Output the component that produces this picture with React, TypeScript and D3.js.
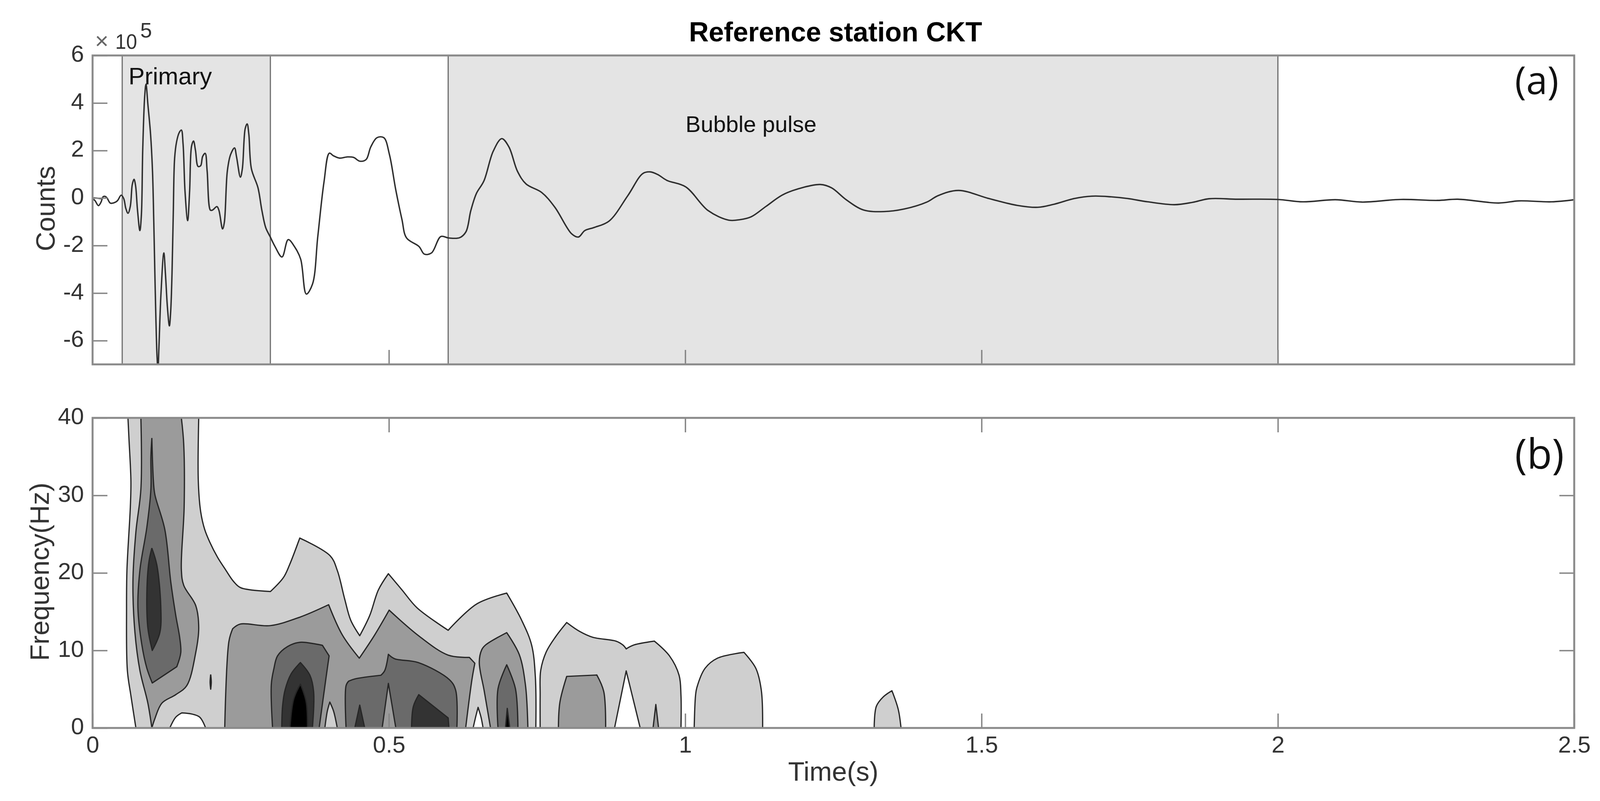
import { useEffect, useRef } from "react";
import * as d3 from "d3";

type Pt = [number, number];

const WIDTH = 4137;
const HEIGHT = 2051;
const FONT = '"Liberation Sans", Arial, sans-serif';

const TITLE = "Reference station CKT";
const COUNT_TICKS = [6, 4, 2, 0, -2, -4, -6];
const FREQ_TICKS = [0, 10, 20, 30, 40];
const TIME_TICKS = [0, 0.5, 1, 1.5, 2, 2.5];
const SHADED_WINDOWS: Pt[] = [
  [0.05, 0.3],
  [0.6, 2.0],
];

// waveform: time (s), counts (x 1e5)
const trace: Pt[] = [
  [0.0143, -0.03], [0, 0], [0.0044, -0.12], [0.0099, -0.32], [0.0143, -0.17], [0.0176, 0.05],
  [0.0209, 0.07], [0.0242, 0.01], [0.0297, -0.21], [0.0352, -0.21], [0.0417, -0.12], [0.0483, 0.12],
  [0.0527, -0.03], [0.056, -0.43], [0.0598, -0.64], [0.0637, -0.34], [0.067, 0.57], [0.0699, 0.79],
  [0.0725, 0.53], [0.0758, -0.51], [0.0798, -1.37], [0.0824, -0.69], [0.0846, 2.01], [0.0879, 4.27],
  [0.0901, 4.79], [0.0934, 3.92], [0.0978, 2.7], [0.1011, 1.14], [0.1033, -1.03], [0.1055, -3.64],
  [0.1088, -6.69], [0.1103, -7.2], [0.112, -6.25], [0.1153, -4.08], [0.1202, -2.31], [0.123, -3.21],
  [0.1263, -4.6], [0.1296, -5.38], [0.1318, -4.77], [0.134, -3.21], [0.1362, -0.6], [0.1384, 1.66],
  [0.1417, 2.36], [0.1461, 2.75], [0.1498, 2.86], [0.1527, 2.27], [0.156, 0.27], [0.1604, -0.95],
  [0.1637, 0.27], [0.167, 2.18], [0.1703, 2.4], [0.1736, 2.01], [0.178, 1.33], [0.1824, 1.36],
  [0.1857, 1.75], [0.19, 1.88], [0.1933, 1.14], [0.1988, -0.51], [0.2021, -0.51], [0.2098, -0.36],
  [0.2131, -0.51], [0.2193, -1.3], [0.2223, -1.03], [0.2274, 1.14], [0.2329, 1.83], [0.2395, 2.11],
  [0.2428, 1.75], [0.2494, 0.88], [0.2527, 1.23], [0.2575, 2.92], [0.2608, 3.12], [0.2636, 2.7],
  [0.268, 1.23], [0.279, 0.44], [0.2856, -0.51], [0.2922, -1.25], [0.2999, -1.64], [0.3076, -2.03],
  [0.3196, -2.48], [0.3301, -1.75], [0.3406, -2.04], [0.3511, -2.57], [0.3606, -4.04], [0.3711, -3.62],
  [0.38, -1.62], [0.3905, 0.68], [0.3995, 1.89], [0.4063, 1.78], [0.4168, 1.68], [0.43, 1.73],
  [0.4404, 1.71], [0.451, 1.55], [0.4615, 1.62], [0.4694, 2.15], [0.4799, 2.54], [0.4914, 2.54],
  [0.5009, 1.83], [0.5114, 0.37], [0.5219, -0.89], [0.5298, -1.68], [0.5508, -2.04], [0.5598, -2.36],
  [0.5719, -2.31], [0.5876, -1.62], [0.6008, -1.68], [0.6193, -1.67], [0.63, -1.42], [0.6382, -0.53],
  [0.6476, 0.19], [0.6603, 0.72], [0.676, 1.97], [0.6905, 2.5], [0.7025, 2.15], [0.717, 1.12],
  [0.7315, 0.59], [0.758, 0.23], [0.7801, -0.39], [0.8085, -1.51], [0.8198, -1.64], [0.8305, -1.37],
  [0.8463, -1.24], [0.8715, -0.97], [0.9031, 0.1], [0.9283, 1.03], [0.9409, 1.1], [0.9535, 0.99],
  [0.9693, 0.74], [1.0008, 0.47], [1.0387, -0.53], [1.0734, -0.93], [1.0923, -0.91], [1.1112, -0.79],
  [1.1364, -0.35], [1.1648, 0.14], [1.1995, 0.45], [1.2279, 0.57], [1.2468, 0.43], [1.2721, -0.08],
  [1.3004, -0.5], [1.3351, -0.57], [1.3698, -0.46], [1.4077, -0.17], [1.4266, 0.1], [1.4613, 0.32],
  [1.5122, -0.02], [1.5604, -0.31], [1.5948, -0.39], [1.6223, -0.26], [1.6567, -0.02], [1.6877, 0.08],
  [1.7187, 0.05], [1.7462, -0.02], [1.7806, -0.16], [1.8253, -0.28], [1.8563, -0.18], [1.8838, -0.03],
  [1.932, -0.05], [2.0, -0.06], [2.042, -0.16], [2.0971, -0.07], [2.1418, -0.17], [2.2072, -0.06],
  [2.2691, -0.1], [2.3035, -0.05], [2.3723, -0.21], [2.4067, -0.12], [2.4617, -0.16], [2.5, -0.07],
];

// contour outlines: time (s), frequency (Hz)
const outerMain: Pt[] = [
  [0.0731, 0], [0.0647, 4.16], [0.0587, 7.41], [0.0573, 15.5], [0.058, 20.4], [0.0637, 28.5], [0.0647, 31.8],
  [0.0614, 37.3], [0.0597, 40], [0.1791, 40], [0.1784, 31.8], [0.1824, 27.9], [0.1892, 25.6], [0.1976, 24],
  [0.211, 22], [0.2245, 20.4], [0.2379, 18.9], [0.2497, 18.1], [0.3001, 17.6], [0.322, 19.4], [0.3321, 21],
  [0.3496, 24.5], [0.401, 22.2], [0.413, 20.3], [0.4255, 16.6], [0.4356, 13.9], [0.4508, 11.9], [0.4676, 14.5],
  [0.4822, 17.8], [0.4991, 19.9], [0.5222, 17.8], [0.5475, 15.5], [0.6, 12.6], [0.6483, 16], [0.6988, 17.4],
  [0.724, 13.9], [0.7408, 10.7], [0.7471, 6.6], [0.7479, 0],
];
const outerSecond: Pt[] = [
  [0.7552, 0], [0.7552, 4.18], [0.7561, 7.4], [0.7654, 9.8], [0.7816, 11.8], [0.8, 13.6], [0.8208, 12.5],
  [0.8439, 11.7], [0.8833, 11.2], [0.8948, 10.7], [0.9004, 10.2], [0.9133, 10.7], [0.948, 11.2], [0.9734, 9.3],
  [0.9896, 6.8], [0.9928, 4.2], [0.9928, 0],
];
const outerThird: Pt[] = [
  [1.0151, 0], [1.0174, 4.2], [1.0196, 5.2], [1.0335, 7.7], [1.0543, 9], [1.0992, 9.75], [1.1191, 7.7],
  [1.1283, 4.9], [1.1306, 0],
];
const outerFourth: Pt[] = [
  [1.3188, 0], [1.3225, 2.8], [1.334, 4], [1.3488, 4.8], [1.3594, 2.4], [1.3641, 0],
];
const holeLowLeft: Pt[] = [
  [0.1303, 0], [0.1404, 1.4], [0.1505, 1.95], [0.1673, 1.8], [0.1807, 1.4], [0.1908, 0],
];
const holeNearPoint7: Pt[] = [[0.6421, 0], [0.6463, 1.4], [0.6505, 2.66], [0.6554, 1.4], [0.6589, 0]];
const holeNearPoint9: Pt[] = [[0.8807, 0], [0.9004, 7.36], [0.924, 0]];

const midFirst: Pt[] = [
  [0.1, 0], [0.0933, 3.2], [0.0799, 7.4], [0.0715, 12.3], [0.0681, 18.8], [0.0731, 25.3], [0.0815, 30.8],
  [0.0815, 40], [0.1498, 40], [0.1538, 36.6], [0.1545, 28.5], [0.1498, 20.4], [0.1538, 18.4], [0.174, 15.8],
  [0.1791, 12.9], [0.174, 9.7], [0.1589, 5.46], [0.1404, 4.3], [0.1169, 3.2], [0.1051, 1.2],
];
const midSpeck: Pt[] = [[0.1993, 6.9], [0.2003, 5.9], [0.1993, 5], [0.1983, 5.9]];
const midMain: Pt[] = [
  [0.223, 0], [0.2301, 11.2], [0.2364, 12.8], [0.249, 13.4], [0.2995, 13.2], [0.3499, 14.3], [0.3983, 15.9],
  [0.4214, 12], [0.45, 9], [0.476, 12], [0.5004, 15.2], [0.5517, 11.8], [0.6, 9.4], [0.6358, 9.1], [0.645, 8.35],
  [0.64, 6.2], [0.6295, 0],
];
const midPoint7: Pt[] = [
  [0.6715, 0], [0.661, 4.7], [0.6525, 8.5], [0.6567, 10.1], [0.663, 10.7], [0.6988, 12.3], [0.7198, 9.5],
  [0.7303, 5.6], [0.7345, 0],
];
const midPoint8: Pt[] = [
  [0.786, 0], [0.7885, 3.3], [0.8, 6.65], [0.8509, 6.83], [0.8625, 4.7], [0.8657, 0],
];
const midSpike: Pt[] = [[0.9457, 0], [0.9504, 3.03], [0.955, 0]];

const highFirst: Pt[] = [
  [0.1, 37.4], [0.1027, 31.8], [0.1051, 30.1], [0.1219, 25.6], [0.132, 18.8], [0.1404, 14.5], [0.1471, 11.6],
  [0.1488, 9.7], [0.1421, 7.9], [0.1007, 5.8], [0.0916, 7.7], [0.0832, 10.7], [0.0765, 15.5], [0.0799, 20.4],
  [0.0916, 25.9], [0.0984, 30.8], [0.0984, 35],
];
const highPoint35: Pt[] = [
  [0.3037, 0], [0.3016, 5.65], [0.3058, 7.6], [0.3121, 9.3], [0.3289, 10.5], [0.3499, 11.05], [0.3751, 10.85],
  [0.3878, 10.66], [0.3991, 9.3], [0.3941, 6.6], [0.3823, 0],
];
const highPoint5: Pt[] = [
  [0.4277, 0], [0.4277, 5.46], [0.4319, 6.03], [0.4424, 6.32], [0.4865, 6.8], [0.4928, 7.38], [0.4991, 9.5],
  [0.5096, 8.93], [0.5495, 8.44], [0.6021, 6.23], [0.6126, 4.88], [0.6147, 0],
];
const highPoint7: Pt[] = [[0.6841, 0], [0.6841, 5.07], [0.6988, 8.15], [0.7135, 5.07], [0.7177, 0]];

const peakFirst: Pt[] = [
  [0.1, 23.2], [0.1085, 21], [0.1152, 15.5], [0.1135, 12.3], [0.1007, 10], [0.0933, 12.9], [0.0916, 17.5], [0.095, 21.4],
];
const peakPoint35: Pt[] = [
  [0.3192, 0], [0.3205, 2.76], [0.3247, 4.88], [0.3352, 7], [0.3507, 8.44], [0.3667, 6.8], [0.373, 4.68], [0.3709, 0],
];
const peakPoint45: Pt[] = [[0.4424, 0], [0.4508, 2.95], [0.4592, 0]];
const peakPoint55: Pt[] = [[0.5382, 0], [0.5412, 2.76], [0.5504, 4.3], [0.6, 1.3], [0.6013, 0]];

const topPoint35: Pt[] = [[0.3331, 0], [0.3394, 3.72], [0.3507, 5.65], [0.3604, 3.34], [0.3625, 0]];
const topPoint7: Pt[] = [[0.6967, 0], [0.6997, 2.53], [0.7039, 0]];

const islandPoint4: Pt[] = [[0.3919, 0], [0.3961, 2.18], [0.4003, 3.34], [0.4066, 2.18], [0.4129, 0]];
const islandPoint5: Pt[] = [[0.4886, 0], [0.4991, 5.75], [0.5117, 0]];

const CONTOUR_GREYS = ["#ffffff", "#cfcfcf", "#9b9b9b", "#6a6a6a", "#333333", "#000000"];

// painted back to front, [outline, grey index]
const contourStack: [Pt[], number][] = [
  [outerMain, 1], [outerSecond, 1], [outerThird, 1], [outerFourth, 1],
  [holeLowLeft, 0], [holeNearPoint7, 0], [holeNearPoint9, 0],
  [midFirst, 2], [midSpeck, 2], [midMain, 2], [midPoint7, 2], [midPoint8, 2], [midSpike, 2],
  [highFirst, 3], [highPoint35, 3], [highPoint5, 3], [highPoint7, 3],
  [peakFirst, 4], [peakPoint35, 4], [peakPoint45, 4], [peakPoint55, 4],
  [topPoint35, 5], [topPoint7, 5],
  [islandPoint4, 1], [islandPoint5, 2],
];

const SHARP_TURN = (40 * Math.PI) / 180;

export default function App() {
  const svgRef = useRef<SVGSVGElement>(null);

  useEffect(() => {
    if (!svgRef.current) return;
    const svg = d3.select(svgRef.current);
    svg.selectAll("*").remove();

    const x = d3.scaleLinear().domain([0, 2.5]).range([237, 4030]);
    const yCounts = d3.scaleLinear().domain([-7, 6]).range([933, 142]);
    const yFreq = d3.scaleLinear().domain([0, 40]).range([1864, 1070]);

    const defs = svg.append("defs");
    defs.append("clipPath").attr("id", "clip-a").append("rect")
      .attr("x", 237).attr("y", 142).attr("width", 3793).attr("height", 791);
    defs.append("clipPath").attr("id", "clip-b").append("rect")
      .attr("x", 237).attr("y", 1070).attr("width", 3793).attr("height", 794);

    // panel a
    svg.append("g").selectAll("rect").data(SHADED_WINDOWS).enter().append("rect")
      .attr("x", (d) => x(d[0]))
      .attr("y", 142)
      .attr("width", (d) => x(d[1]) - x(d[0]))
      .attr("height", 791)
      .attr("fill", "#e4e4e4");
    svg.append("g").selectAll("line").data(SHADED_WINDOWS.flat()).enter().append("line")
      .attr("x1", (d) => x(d)).attr("x2", (d) => x(d))
      .attr("y1", 142).attr("y2", 933)
      .attr("stroke", "#6e6e6e").attr("stroke-width", 3);

    const traceLine = d3.line<Pt>()
      .x((d) => x(d[0]))
      .y((d) => yCounts(d[1]))
      .curve(d3.curveCatmullRom.alpha(0.5));
    svg.append("path")
      .attr("clip-path", "url(#clip-a)")
      .attr("d", traceLine(trace))
      .attr("fill", "none")
      .attr("stroke", "#2e2e2e")
      .attr("stroke-width", 3.6);

    // panel b: outlines are smoothed, but real corners are doubled so the spline keeps them
    const contourLine = d3.line<Pt>()
      .x((d) => x(d[0]))
      .y((d) => yFreq(d[1]))
      .curve(d3.curveCatmullRomClosed.alpha(0.5));
    const keepCorners = (pts: Pt[]) =>
      pts.flatMap((p, i) => {
        const a = pts[(i + pts.length - 1) % pts.length];
        const b = pts[(i + 1) % pts.length];
        const t1 = Math.atan2(yFreq(p[1]) - yFreq(a[1]), x(p[0]) - x(a[0]));
        const t2 = Math.atan2(yFreq(b[1]) - yFreq(p[1]), x(b[0]) - x(p[0]));
        const turn = Math.abs(Math.atan2(Math.sin(t2 - t1), Math.cos(t2 - t1)));
        return turn > SHARP_TURN ? [p, p] : [p];
      });
    svg.append("g").attr("clip-path", "url(#clip-b)")
      .selectAll("path").data(contourStack).enter().append("path")
      .attr("d", (d) => contourLine(keepCorners(d[0])))
      .attr("fill", (d) => CONTOUR_GREYS[d[1]])
      .attr("stroke", "#262626")
      .attr("stroke-width", 3.2)
      .attr("stroke-linejoin", "round");

    const styleAxis = (g: d3.Selection<SVGGElement, unknown, null, undefined>) => {
      g.select(".domain").remove();
      g.selectAll(".tick line").attr("stroke", "#858585").attr("stroke-width", 3.5);
      g.selectAll(".tick text")
        .attr("fill", "#333333")
        .style("font-family", FONT)
        .style("font-size", "60px");
    };
    const plain = (d: d3.NumberValue) => String(d);
    const addAxis = (axis: d3.Axis<d3.NumberValue>, dx: number, dy: number) =>
      svg.append("g").attr("transform", `translate(${dx},${dy})`).call(axis as any).call(styleAxis as any);

    addAxis(d3.axisLeft(yCounts).tickValues(COUNT_TICKS).tickSize(-38).tickPadding(22).tickFormat(plain), 237, 0)
      .selectAll(".tick text").attr("dy", "0.26em");
    addAxis(d3.axisBottom(x).tickValues(TIME_TICKS.slice(1, 5)).tickSize(-37).tickFormat(() => ""), 0, 933);

    addAxis(d3.axisLeft(yFreq).tickValues(FREQ_TICKS).tickSize(-38).tickPadding(22).tickFormat(plain), 237, 0)
      .selectAll(".tick text").attr("dy", "0.26em");
    addAxis(d3.axisRight(yFreq).tickValues(FREQ_TICKS.slice(1, 4)).tickSize(-38).tickFormat(() => ""), 4030, 0);
    addAxis(d3.axisTop(x).tickValues(TIME_TICKS.slice(1, 5)).tickSize(-37).tickFormat(() => ""), 0, 1070);
    addAxis(d3.axisBottom(x).tickValues(TIME_TICKS).tickSize(-37).tickPadding(20).tickFormat(plain), 0, 1864);

    // frames
    [[142, 791], [1070, 794]].forEach(([top, h]) => {
      svg.append("rect")
        .attr("x", 237).attr("y", top).attr("width", 3793).attr("height", h)
        .attr("fill", "none").attr("stroke", "#8a8a8a").attr("stroke-width", 5);
    });

    const addText = (
      label: string, px: number, py: number, size: number,
      opts: { anchor?: string; weight?: string; fill?: string; family?: string; rotate?: boolean } = {},
    ) =>
      svg.append("text")
        .attr("transform", `translate(${px},${py})${opts.rotate ? " rotate(-90)" : ""}`)
        .attr("text-anchor", opts.anchor ?? "start")
        .attr("fill", opts.fill ?? "#333333")
        .style("font-family", opts.family ?? FONT)
        .style("font-size", `${size}px`)
        .style("font-weight", opts.weight ?? "normal")
        .text(label);

    addText(TITLE, 2139, 106, 70, { anchor: "middle", weight: "bold", fill: "#000000" });
    addText("Counts", 140, 534, 69, { anchor: "middle", rotate: true });
    addText("Frequency(Hz)", 125, 1464, 69, { anchor: "middle", rotate: true });
    addText("Time(s)", 2133, 1999, 69, { anchor: "middle" });
    addText("Primary", 329, 216, 62, { fill: "#111111" });
    addText("Bubble pulse", 1755, 338, 58, { fill: "#111111" });
    addText("×", 243, 125, 60, { fill: "#666666" });
    addText("10", 295, 125, 54).attr("textLength", 56).attr("lengthAdjust", "spacingAndGlyphs");
    addText("5", 359, 96, 54);
    addText("(a)", 3878, 241, 98, { family: '"Open Sans", sans-serif', fill: "#111111" });
    addText("(b)", 3878, 1200, 106, { family: '"Open Sans", sans-serif', fill: "#111111" })
      .attr("textLength", 126).attr("lengthAdjust", "spacingAndGlyphs");
  }, []);

  return (
    <svg
      ref={svgRef}
      width={WIDTH}
      height={HEIGHT}
      style={{ display: "block", position: "absolute", left: 0, top: 0, background: "#ffffff" }}
    />
  );
}
